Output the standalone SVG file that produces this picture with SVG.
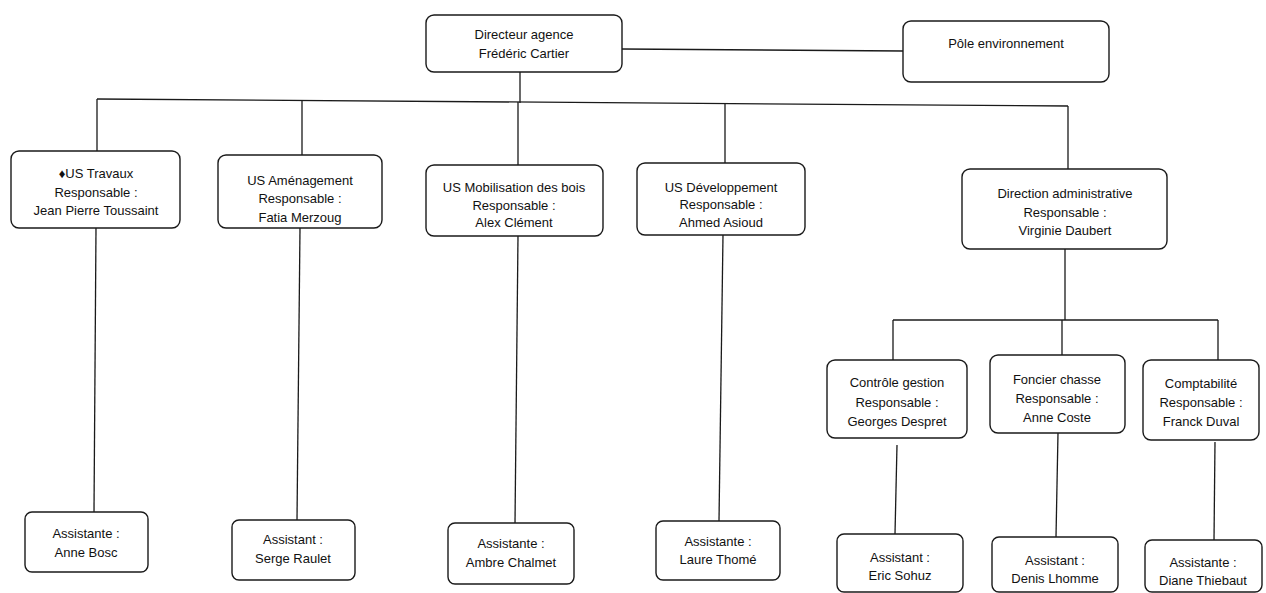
<svg xmlns="http://www.w3.org/2000/svg" width="1266" height="593" viewBox="0 0 1266 593">
<style>
.box{fill:#fff;stroke:#1a1a1a;stroke-width:1.4}
.ln{stroke:#1a1a1a;stroke-width:1.3;fill:none}
text{font-family:"Liberation Sans",Arial,sans-serif;font-size:13px;fill:#111;text-anchor:middle}
</style>
<rect width="1266" height="593" fill="#fff"/>
<g id="connectors">
<line class="ln" x1="622" y1="49" x2="903" y2="51"/>
<line class="ln" x1="520" y1="72" x2="520" y2="103"/>
<line class="ln" x1="97" y1="99" x2="1068" y2="106"/>
<line class="ln" x1="97" y1="99" x2="97" y2="151"/>
<line class="ln" x1="302" y1="100" x2="302" y2="155"/>
<line class="ln" x1="518" y1="102" x2="518" y2="165"/>
<line class="ln" x1="725" y1="104" x2="725" y2="163"/>
<line class="ln" x1="1068" y1="106" x2="1068" y2="169"/>
<line class="ln" x1="1065" y1="249" x2="1065" y2="320"/>
<line class="ln" x1="893" y1="320" x2="1218" y2="320"/>
<line class="ln" x1="893" y1="320" x2="893" y2="360"/>
<line class="ln" x1="1062" y1="320" x2="1062" y2="355"/>
<line class="ln" x1="1218" y1="320" x2="1218" y2="360"/>
<line class="ln" x1="96" y1="228" x2="94" y2="512"/>
<line class="ln" x1="300" y1="228" x2="297" y2="520"/>
<line class="ln" x1="518" y1="236" x2="515" y2="523"/>
<line class="ln" x1="723" y1="235" x2="719" y2="521"/>
<line class="ln" x1="897" y1="445" x2="895" y2="534"/>
<line class="ln" x1="1058" y1="433" x2="1056" y2="537"/>
<line class="ln" x1="1215" y1="442" x2="1214" y2="540"/>
</g>
<g id="directeur"><rect class="box" x="426" y="15" width="196" height="57" rx="8"/><text x="524" y="38.5">Directeur agence</text><text x="524" y="57.5">Frédéric Cartier</text></g>
<g id="pole"><rect class="box" x="903" y="21" width="206" height="61" rx="8"/><text x="1006" y="47.5">Pôle environnement</text></g>
<g id="us-travaux"><rect class="box" x="11" y="151" width="169" height="77" rx="8"/><text x="96" y="177.5">♦US Travaux</text><text x="96" y="196.5">Responsable :</text><text x="96" y="214.5">Jean Pierre Toussaint</text></g>
<g id="us-amenagement"><rect class="box" x="218" y="155" width="164" height="73" rx="8"/><text x="300" y="184.5">US Aménagement</text><text x="300" y="202.5">Responsable :</text><text x="300" y="221.5">Fatia Merzoug</text></g>
<g id="us-mobilisation"><rect class="box" x="426" y="165" width="177" height="71" rx="8"/><text x="514" y="191.5">US Mobilisation des bois</text><text x="514" y="209.5">Responsable :</text><text x="514" y="226.5">Alex Clément</text></g>
<g id="us-developpement"><rect class="box" x="637" y="163" width="168" height="72" rx="8"/><text x="721" y="191.5">US Développement</text><text x="721" y="208.5">Responsable :</text><text x="721" y="226.5">Ahmed Asioud</text></g>
<g id="direction-admin"><rect class="box" x="962" y="169" width="205" height="80" rx="8"/><text x="1065" y="197.5">Direction administrative</text><text x="1065" y="216.5">Responsable :</text><text x="1065" y="234.5">Virginie Daubert</text></g>
<g id="controle-gestion"><rect class="box" x="827" y="360" width="140" height="78" rx="8"/><text x="897" y="386.5">Contrôle gestion</text><text x="897" y="406.5">Responsable :</text><text x="897" y="425.5">Georges Despret</text></g>
<g id="foncier-chasse"><rect class="box" x="990" y="355" width="135" height="78" rx="8"/><text x="1057" y="383.5">Foncier chasse</text><text x="1057" y="402.5">Responsable :</text><text x="1057" y="421.5">Anne Coste</text></g>
<g id="comptabilite"><rect class="box" x="1143" y="360" width="116" height="80" rx="8"/><text x="1201" y="387.5">Comptabilité</text><text x="1201" y="406.5">Responsable :</text><text x="1201" y="425.5">Franck Duval</text></g>
<g id="anne-bosc"><rect class="box" x="25" y="512" width="123" height="60" rx="7"/><text x="86" y="537.5">Assistante :</text><text x="86" y="556.5">Anne Bosc</text></g>
<g id="serge-raulet"><rect class="box" x="232" y="520" width="123" height="60" rx="7"/><text x="293" y="543.5">Assistant :</text><text x="293" y="562.5">Serge Raulet</text></g>
<g id="ambre-chalmet"><rect class="box" x="448" y="523" width="126" height="61" rx="7"/><text x="511" y="547.5">Assistante :</text><text x="511" y="566.5">Ambre Chalmet</text></g>
<g id="laure-thome"><rect class="box" x="656" y="521" width="124" height="59" rx="7"/><text x="718" y="545.5">Assistante :</text><text x="718" y="563.5">Laure Thomé</text></g>
<g id="eric-sohuz"><rect class="box" x="837" y="534" width="126" height="58" rx="7"/><text x="900" y="561.5">Assistant :</text><text x="900" y="579.5">Eric Sohuz</text></g>
<g id="denis-lhomme"><rect class="box" x="992" y="537" width="126" height="55" rx="7"/><text x="1055" y="564.5">Assistant :</text><text x="1055" y="582.5">Denis Lhomme</text></g>
<g id="diane-thiebaut"><rect class="box" x="1145" y="540" width="117" height="52" rx="7"/><text x="1203" y="566.5">Assistante :</text><text x="1203" y="584.5">Diane Thiebaut</text></g>
</svg>
